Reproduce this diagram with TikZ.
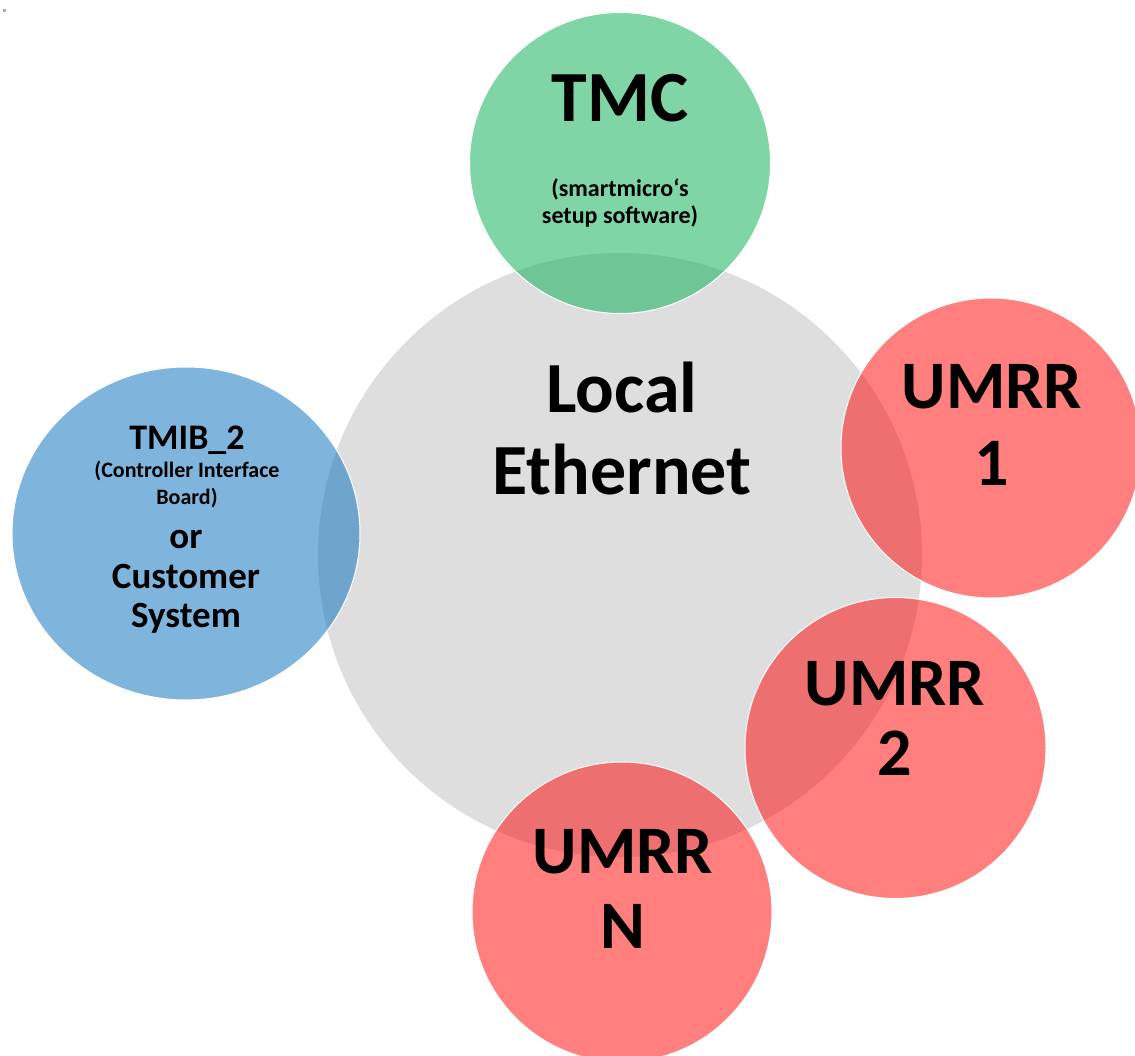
\documentclass[tikz,border=0pt]{standalone}
\usepackage{fontspec}
\setmainfont{Carlito}
\usetikzlibrary{shapes.geometric}
\definecolor{bggray}{RGB}{222,222,222}
\definecolor{tmcgreen}{RGB}{1,173,77}
\definecolor{tmibblue}{RGB}{1,109,189}
\definecolor{umrrred}{RGB}{255,1,1}
\definecolor{dotgray}{RGB}{170,170,170}
\tikzset{
  bubble/.style={circle, inner sep=0pt, minimum size=#1, draw=white, line width=1pt},
  tint/.style={fill=#1, fill opacity=0.5},
  lbl/.style={anchor=base, inner sep=0pt, text=black, font=\bfseries\fontsize{#1}{#1}\selectfont},
}
\begin{document}
\begin{tikzpicture}[x=1pt, y=-1pt]
\useasboundingbox (0,0) rectangle (1135,1056);
\fill[white] (0,0) rectangle (1135,1056);
\fill[dotgray] (3,9) rectangle (6,12);
% central circle
\node[circle, inner sep=0pt, minimum size=604, fill=bggray] (eth) at (620,555) {};
% satellites
\node[bubble=301, tint=tmcgreen] (tmc) at (620,163) {};
\node[ellipse, inner sep=0pt, minimum width=348, minimum height=333, draw=white, line width=1pt, tint=tmibblue] (tmib) at (186,533.5) {};
\node[bubble=300, tint=umrrred] (u1) at (991,448) {};
\node[bubble=301, tint=umrrred] (u2) at (895.5,748) {};
\node[bubble=300, tint=umrrred] (un) at (622,912) {};
% labels
\node[lbl=72] (ethA) at (622,413) {Local};
\node[lbl=72] (ethB) at (622,494) {Ethernet};
\node[lbl=72] (tmcA) at (620,122) {TMC};
\node[lbl=24] (tmcB) at (620,197) {(smartmicro\symbol{96}s};
\node[lbl=24] (tmcC) at (620,224) {setup software)};
\node[lbl=36] (tmibA) at (187,449) {TMIB\_2};
\node[lbl=22] (tmibB) at (187,477) {(Controller Interface};
\node[lbl=22] (tmibC) at (187,504) {Board)};
\node[lbl=37] (tmibD) at (186,548) {or};
\node[lbl=37] (tmibE) at (186,588) {Customer};
\node[lbl=37] (tmibF) at (186,627) {System};
\node[lbl=68] (u1A) at (992,408) {UMRR};
\node[lbl=68] (u1B) at (992,485) {1};
\node[lbl=68] (u2A) at (895,705) {UMRR};
\node[lbl=68] (u2B) at (895,775) {2};
\node[lbl=68] (unA) at (623,873) {UMRR};
\node[lbl=68] (unB) at (623,948) {N};
\end{tikzpicture}
\end{document}
